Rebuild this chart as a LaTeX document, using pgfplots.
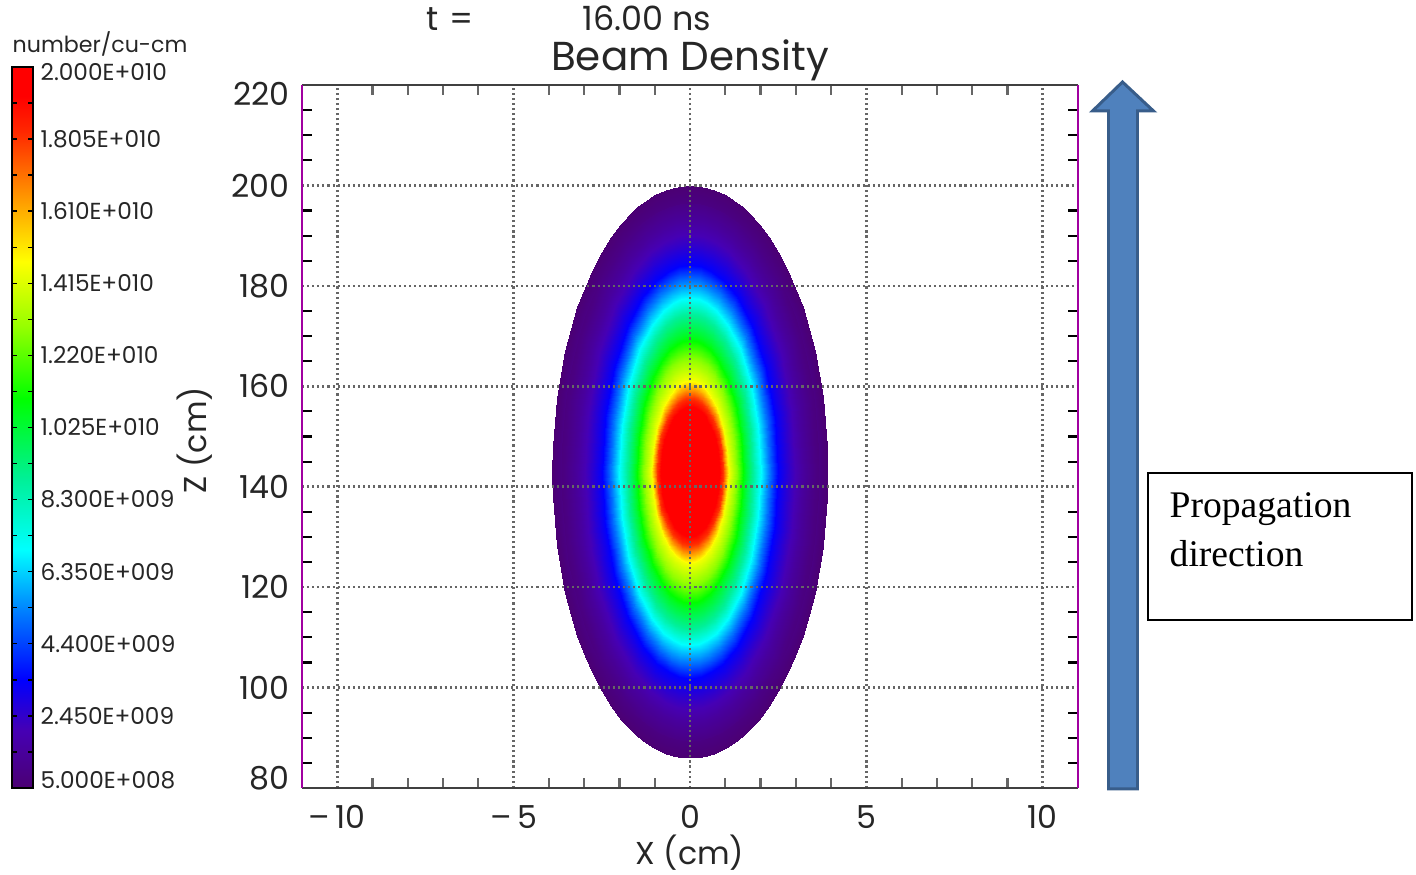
\documentclass[border=0pt]{standalone}
\usepackage{pgfplots}
\pgfplotsset{compat=1.18}
\usepackage{fontspec}
\setmainfont{Poppins}
\newfontfamily\timesfont{Liberation Serif}
\definecolor{arrowfill}{HTML}{4F81BD}
\definecolor{arrowdraw}{HTML}{385D8A}
\definecolor{framepurple}{RGB}{160,0,160}
\pgfplotsset{colormap={beam}{rgb255(0pt)=(75,0,115) rgb255(8pt)=(70,0,180) rgb255(15pt)=(0,0,255) rgb255(24pt)=(0,120,255) rgb255(33pt)=(0,255,255) rgb255(43pt)=(0,240,150) rgb255(54pt)=(0,255,0) rgb255(64pt)=(150,255,0) rgb255(73pt)=(255,255,0) rgb255(82pt)=(255,150,0) rgb255(91pt)=(255,40,0) rgb255(96pt)=(255,0,0) rgb255(100pt)=(255,0,0)}}
\begin{document}
\begin{tikzpicture}
\path[use as bounding box] (0,0) rectangle (14.16,8.75);
% ---------- beam density: rings of equal density (x, z, density/1e10) ----------
\begin{axis}[
  at={(3.02cm,0.87cm)}, anchor=south west,
  scale only axis, width=7.76cm, height=7.03cm,
  view={0}{90}, hide axis,
  xmin=-11, xmax=11, ymin=80, ymax=220,
  colormap name=beam, point meta min=0.05, point meta max=2,
]
\addplot3[surf, shader=interp, point meta=z] coordinates {
(0,143,2) (0,143,2) (0,143,2) (0,143,2) (0,143,2) (0,143,2) (0,143,2) (0,143,2) (0,143,2) (0,143,2) (0,143,2) (0,143,2) (0,143,2) (0,143,2) (0,143,2) (0,143,2) (0,143,2) (0,143,2) (0,143,2) (0,143,2) (0,143,2) (0,143,2) (0,143,2) (0,143,2) (0,143,2) (0,143,2) (0,143,2) (0,143,2) (0,143,2) (0,143,2) (0,143,2) (0,143,2) (0,143,2)

(0.78,143,1.98) (0.753,146.13,1.98) (0.675,149.04,1.98) (0.552,151.54,1.98) (0.413,153.24,1.98) (0.292,154.2,1.98) (0.189,154.72,1.98) (0.095,154.99,1.98) (0,155.08,1.98) (-0.095,154.99,1.98) (-0.189,154.72,1.98) (-0.292,154.2,1.98) (-0.413,153.24,1.98) (-0.552,151.54,1.98) (-0.675,149.04,1.98) (-0.753,146.13,1.98) (-0.78,143,1.98) (-0.753,139.87,1.98) (-0.675,136.96,1.98) (-0.552,134.46,1.98) (-0.413,132.76,1.98) (-0.292,131.8,1.98) (-0.189,131.28,1.98) (-0.095,131.01,1.98) (0,130.92,1.98) (0.095,131.01,1.98) (0.189,131.28,1.98) (0.292,131.8,1.98) (0.413,132.76,1.98) (0.552,134.46,1.98) (0.675,136.96,1.98) (0.753,139.87,1.98) (0.78,143,1.98)

(0.936,143,1.8) (0.904,146.82,1.8) (0.811,150.38,1.8) (0.662,153.44,1.8) (0.496,155.52,1.8) (0.351,156.69,1.8) (0.226,157.32,1.8) (0.114,157.65,1.8) (0,157.76,1.8) (-0.114,157.65,1.8) (-0.226,157.32,1.8) (-0.351,156.69,1.8) (-0.496,155.52,1.8) (-0.662,153.44,1.8) (-0.811,150.38,1.8) (-0.904,146.82,1.8) (-0.936,143,1.8) (-0.904,139.18,1.8) (-0.811,135.62,1.8) (-0.662,132.56,1.8) (-0.496,130.48,1.8) (-0.351,129.31,1.8) (-0.226,128.68,1.8) (-0.114,128.35,1.8) (0,128.24,1.8) (0.114,128.35,1.8) (0.226,128.68,1.8) (0.351,129.31,1.8) (0.496,130.48,1.8) (0.662,132.56,1.8) (0.811,135.62,1.8) (0.904,139.18,1.8) (0.936,143,1.8)

(1.092,143,1.45) (1.055,147.75,1.45) (0.946,152.18,1.45) (0.772,155.98,1.45) (0.579,158.56,1.45) (0.409,160.01,1.45) (0.264,160.81,1.45) (0.133,161.21,1.45) (0,161.35,1.45) (-0.133,161.21,1.45) (-0.264,160.81,1.45) (-0.409,160.01,1.45) (-0.579,158.56,1.45) (-0.772,155.98,1.45) (-0.946,152.18,1.45) (-1.055,147.75,1.45) (-1.092,143,1.45) (-1.055,138.25,1.45) (-0.946,133.83,1.45) (-0.772,130.03,1.45) (-0.579,127.44,1.45) (-0.409,125.99,1.45) (-0.264,125.2,1.45) (-0.133,124.79,1.45) (0,124.65,1.45) (0.133,124.79,1.45) (0.264,125.2,1.45) (0.409,125.99,1.45) (0.579,127.44,1.45) (0.772,130.03,1.45) (0.946,133.83,1.45) (1.055,138.25,1.45) (1.092,143,1.45)

(1.326,143,1.27) (1.281,148.92,1.27) (1.148,154.43,1.27) (0.938,159.16,1.27) (0.703,162.39,1.27) (0.497,164.2,1.27) (0.321,165.18,1.27) (0.162,165.69,1.27) (0,165.86,1.27) (-0.162,165.69,1.27) (-0.321,165.18,1.27) (-0.497,164.2,1.27) (-0.703,162.39,1.27) (-0.938,159.16,1.27) (-1.148,154.43,1.27) (-1.281,148.92,1.27) (-1.326,143,1.27) (-1.281,137.08,1.27) (-1.148,131.57,1.27) (-0.938,126.84,1.27) (-0.703,123.62,1.27) (-0.497,121.8,1.27) (-0.321,120.82,1.27) (-0.162,120.31,1.27) (0,120.14,1.27) (0.162,120.31,1.27) (0.321,120.82,1.27) (0.497,121.8,1.27) (0.703,123.62,1.27) (0.938,126.84,1.27) (1.148,131.57,1.27) (1.281,137.08,1.27) (1.326,143,1.27)

(1.56,143,1.05) (1.507,150.02,1.05) (1.351,156.57,1.05) (1.103,162.18,1.05) (0.827,166.01,1.05) (0.584,168.16,1.05) (0.377,169.32,1.05) (0.19,169.93,1.05) (0,170.13,1.05) (-0.19,169.93,1.05) (-0.377,169.32,1.05) (-0.584,168.16,1.05) (-0.827,166.01,1.05) (-1.103,162.18,1.05) (-1.351,156.57,1.05) (-1.507,150.02,1.05) (-1.56,143,1.05) (-1.507,135.98,1.05) (-1.351,129.44,1.05) (-1.103,123.82,1.05) (-0.827,119.99,1.05) (-0.584,117.85,1.05) (-0.377,116.68,1.05) (-0.19,116.07,1.05) (0,115.87,1.05) (0.19,116.07,1.05) (0.377,116.68,1.05) (0.584,117.85,1.05) (0.827,119.99,1.05) (1.103,123.82,1.05) (1.351,129.44,1.05) (1.507,135.98,1.05) (1.56,143,1.05)

(1.794,143,0.88) (1.733,151.14,0.88) (1.554,158.73,0.88) (1.269,165.25,0.88) (0.951,169.68,0.88) (0.672,172.17,0.88) (0.434,173.53,0.88) (0.219,174.22,0.88) (0,174.46,0.88) (-0.219,174.22,0.88) (-0.434,173.53,0.88) (-0.672,172.17,0.88) (-0.951,169.68,0.88) (-1.269,165.25,0.88) (-1.554,158.73,0.88) (-1.733,151.14,0.88) (-1.794,143,0.88) (-1.733,134.86,0.88) (-1.554,127.27,0.88) (-1.269,120.76,0.88) (-0.951,116.32,0.88) (-0.672,113.83,0.88) (-0.434,112.47,0.88) (-0.219,111.78,0.88) (0,111.54,0.88) (0.219,111.78,0.88) (0.434,112.47,0.88) (0.672,113.83,0.88) (0.951,116.32,0.88) (1.269,120.76,0.88) (1.554,127.27,0.88) (1.733,134.86,0.88) (1.794,143,0.88)

(2.028,143,0.67) (1.959,152.06,0.67) (1.756,160.5,0.67) (1.434,167.75,0.67) (1.075,172.68,0.67) (0.76,175.45,0.67) (0.491,176.96,0.67) (0.247,177.74,0.67) (0,178,0.67) (-0.247,177.74,0.67) (-0.491,176.96,0.67) (-0.76,175.45,0.67) (-1.075,172.68,0.67) (-1.434,167.75,0.67) (-1.756,160.5,0.67) (-1.959,152.06,0.67) (-2.028,143,0.67) (-1.959,133.94,0.67) (-1.756,125.5,0.67) (-1.434,118.25,0.67) (-1.075,113.32,0.67) (-0.76,110.55,0.67) (-0.491,109.04,0.67) (-0.247,108.26,0.67) (0,108,0.67) (0.247,108.26,0.67) (0.491,109.04,0.67) (0.76,110.55,0.67) (1.075,113.32,0.67) (1.434,118.25,0.67) (1.756,125.5,0.67) (1.959,133.94,0.67) (2.028,143,0.67)

(2.262,143,0.5) (2.185,152.93,0.5) (1.959,162.18,0.5) (1.599,170.12,0.5) (1.199,175.53,0.5) (0.847,178.57,0.5) (0.547,180.22,0.5) (0.276,181.07,0.5) (0,181.36,0.5) (-0.276,181.07,0.5) (-0.547,180.22,0.5) (-0.847,178.57,0.5) (-1.199,175.53,0.5) (-1.599,170.12,0.5) (-1.959,162.18,0.5) (-2.185,152.93,0.5) (-2.262,143,0.5) (-2.185,133.07,0.5) (-1.959,123.82,0.5) (-1.599,115.88,0.5) (-1.199,110.47,0.5) (-0.847,107.43,0.5) (-0.547,105.78,0.5) (-0.276,104.93,0.5) (0,104.64,0.5) (0.276,104.93,0.5) (0.547,105.78,0.5) (0.847,107.43,0.5) (1.199,110.47,0.5) (1.599,115.88,0.5) (1.959,123.82,0.5) (2.185,133.07,0.5) (2.262,143,0.5)

(2.496,143,0.34) (2.411,153.67,0.34) (2.162,163.61,0.34) (1.765,172.14,0.34) (1.323,177.95,0.34) (0.935,181.21,0.34) (0.604,182.99,0.34) (0.304,183.9,0.34) (0,184.21,0.34) (-0.304,183.9,0.34) (-0.604,182.99,0.34) (-0.935,181.21,0.34) (-1.323,177.95,0.34) (-1.765,172.14,0.34) (-2.162,163.61,0.34) (-2.411,153.67,0.34) (-2.496,143,0.34) (-2.411,132.34,0.34) (-2.162,122.4,0.34) (-1.765,113.86,0.34) (-1.323,108.05,0.34) (-0.935,104.79,0.34) (-0.604,103.01,0.34) (-0.304,102.1,0.34) (0,101.79,0.34) (0.304,102.1,0.34) (0.604,103.01,0.34) (0.935,104.79,0.34) (1.323,108.05,0.34) (1.765,113.86,0.34) (2.162,122.4,0.34) (2.411,132.34,0.34) (2.496,143,0.34)

(2.808,143,0.25) (2.712,154.68,0.25) (2.432,165.57,0.25) (1.986,174.92,0.25) (1.488,181.28,0.25) (1.052,184.85,0.25) (0.679,186.8,0.25) (0.342,187.8,0.25) (0,188.14,0.25) (-0.342,187.8,0.25) (-0.679,186.8,0.25) (-1.052,184.85,0.25) (-1.488,181.28,0.25) (-1.986,174.92,0.25) (-2.432,165.57,0.25) (-2.712,154.68,0.25) (-2.808,143,0.25) (-2.712,131.32,0.25) (-2.432,120.43,0.25) (-1.986,111.08,0.25) (-1.488,104.72,0.25) (-1.052,101.15,0.25) (-0.679,99.2,0.25) (-0.342,98.2,0.25) (0,97.86,0.25) (0.342,98.2,0.25) (0.679,99.2,0.25) (1.052,101.15,0.25) (1.488,104.72,0.25) (1.986,111.08,0.25) (2.432,120.43,0.25) (2.712,131.32,0.25) (2.808,143,0.25)

(3.198,143,0.15) (3.089,155.94,0.15) (2.769,168,0.15) (2.261,178.35,0.15) (1.695,185.39,0.15) (1.198,189.35,0.15) (0.774,191.51,0.15) (0.39,192.62,0.15) (0,192.99,0.15) (-0.39,192.62,0.15) (-0.774,191.51,0.15) (-1.198,189.35,0.15) (-1.695,185.39,0.15) (-2.261,178.35,0.15) (-2.769,168,0.15) (-3.089,155.94,0.15) (-3.198,143,0.15) (-3.089,130.06,0.15) (-2.769,118,0.15) (-2.261,107.65,0.15) (-1.695,100.61,0.15) (-1.198,96.65,0.15) (-0.774,94.5,0.15) (-0.39,93.39,0.15) (0,93.01,0.15) (0.39,93.39,0.15) (0.774,94.5,0.15) (1.198,96.65,0.15) (1.695,100.61,0.15) (2.261,107.65,0.15) (2.769,118,0.15) (3.089,130.06,0.15) (3.198,143,0.15)

(3.549,143,0.09) (3.428,156.95,0.09) (3.073,169.96,0.09) (2.51,181.13,0.09) (1.881,188.72,0.09) (1.329,193,0.09) (0.859,195.32,0.09) (0.433,196.52,0.09) (0,196.92,0.09) (-0.433,196.52,0.09) (-0.859,195.32,0.09) (-1.329,193,0.09) (-1.881,188.72,0.09) (-2.51,181.13,0.09) (-3.073,169.96,0.09) (-3.428,156.95,0.09) (-3.549,143,0.09) (-3.428,129.05,0.09) (-3.073,116.04,0.09) (-2.51,104.87,0.09) (-1.881,97.28,0.09) (-1.329,93,0.09) (-0.859,90.68,0.09) (-0.433,89.48,0.09) (0,89.08,0.09) (0.433,89.48,0.09) (0.859,90.68,0.09) (1.329,93,0.09) (1.881,97.28,0.09) (2.51,104.87,0.09) (3.073,116.04,0.09) (3.428,129.05,0.09) (3.549,143,0.09)

(3.9,143,0.05) (3.767,157.75,0.05) (3.377,171.5,0.05) (2.758,183.31,0.05) (2.067,191.34,0.05) (1.461,195.85,0.05) (0.943,198.31,0.05) (0.475,199.57,0.05) (0,200,0.05) (-0.475,199.57,0.05) (-0.943,198.31,0.05) (-1.461,195.85,0.05) (-2.067,191.34,0.05) (-2.758,183.31,0.05) (-3.377,171.5,0.05) (-3.767,157.75,0.05) (-3.9,143,0.05) (-3.767,128.25,0.05) (-3.377,114.5,0.05) (-2.758,102.7,0.05) (-2.067,94.66,0.05) (-1.461,90.15,0.05) (-0.943,87.69,0.05) (-0.475,86.43,0.05) (0,86,0.05) (0.475,86.43,0.05) (0.943,87.69,0.05) (1.461,90.15,0.05) (2.067,94.66,0.05) (2.758,102.7,0.05) (3.377,114.5,0.05) (3.767,128.25,0.05) (3.9,143,0.05)
};
\end{axis}
% ---------- outer rim of the beam, finer in angle (polar: angle, radius/ellipse, density/1e10) ----------
\begin{axis}[
  at={(3.02cm,0.87cm)}, anchor=south west,
  scale only axis, width=7.76cm, height=7.03cm,
  view={0}{90}, hide axis,
  xmin=-2.82051, xmax=2.82051, ymin=-1.10526, ymax=1.35088,
  colormap name=beam, point meta min=0.05, point meta max=2,
]
\addplot3[surf, shader=interp, data cs=polar, point meta=z] coordinates {
(0,0.94,0.085) (5,0.94,0.085) (10,0.94,0.085) (15,0.94,0.085) (20,0.94,0.085) (25,0.94,0.085) (30,0.94,0.085) (35,0.94,0.085) (40,0.94,0.085) (45,0.94,0.085) (50,0.94,0.085) (55,0.94,0.085) (60,0.94,0.085) (65,0.94,0.085) (70,0.94,0.085) (75,0.94,0.085) (80,0.94,0.085) (85,0.94,0.085) (90,0.94,0.085) (95,0.94,0.085) (100,0.94,0.085) (105,0.94,0.085) (110,0.94,0.085) (115,0.94,0.085) (120,0.94,0.085) (125,0.94,0.085) (130,0.94,0.085) (135,0.94,0.085) (140,0.94,0.085) (145,0.94,0.085) (150,0.94,0.085) (155,0.94,0.085) (160,0.94,0.085) (165,0.94,0.085) (170,0.94,0.085) (175,0.94,0.085) (180,0.94,0.085) (185,0.94,0.085) (190,0.94,0.085) (195,0.94,0.085) (200,0.94,0.085) (205,0.94,0.085) (210,0.94,0.085) (215,0.94,0.085) (220,0.94,0.085) (225,0.94,0.085) (230,0.94,0.085) (235,0.94,0.085) (240,0.94,0.085) (245,0.94,0.085) (250,0.94,0.085) (255,0.94,0.085) (260,0.94,0.085) (265,0.94,0.085) (270,0.94,0.085) (275,0.94,0.085) (280,0.94,0.085) (285,0.94,0.085) (290,0.94,0.085) (295,0.94,0.085) (300,0.94,0.085) (305,0.94,0.085) (310,0.94,0.085) (315,0.94,0.085) (320,0.94,0.085) (325,0.94,0.085) (330,0.94,0.085) (335,0.94,0.085) (340,0.94,0.085) (345,0.94,0.085) (350,0.94,0.085) (355,0.94,0.085) (360,0.94,0.085)

(0,1,0.05) (5,1,0.05) (10,1,0.05) (15,1,0.05) (20,1,0.05) (25,1,0.05) (30,1,0.05) (35,1,0.05) (40,1,0.05) (45,1,0.05) (50,1,0.05) (55,1,0.05) (60,1,0.05) (65,1,0.05) (70,1,0.05) (75,1,0.05) (80,1,0.05) (85,1,0.05) (90,1,0.05) (95,1,0.05) (100,1,0.05) (105,1,0.05) (110,1,0.05) (115,1,0.05) (120,1,0.05) (125,1,0.05) (130,1,0.05) (135,1,0.05) (140,1,0.05) (145,1,0.05) (150,1,0.05) (155,1,0.05) (160,1,0.05) (165,1,0.05) (170,1,0.05) (175,1,0.05) (180,1,0.05) (185,1,0.05) (190,1,0.05) (195,1,0.05) (200,1,0.05) (205,1,0.05) (210,1,0.05) (215,1,0.05) (220,1,0.05) (225,1,0.05) (230,1,0.05) (235,1,0.05) (240,1,0.05) (245,1,0.05) (250,1,0.05) (255,1,0.05) (260,1,0.05) (265,1,0.05) (270,1,0.05) (275,1,0.05) (280,1,0.05) (285,1,0.05) (290,1,0.05) (295,1,0.05) (300,1,0.05) (305,1,0.05) (310,1,0.05) (315,1,0.05) (320,1,0.05) (325,1,0.05) (330,1,0.05) (335,1,0.05) (340,1,0.05) (345,1,0.05) (350,1,0.05) (355,1,0.05) (360,1,0.05)
};
\end{axis}
% ---------- main axis: frame, grid, ticks, colour bar ----------
\begin{axis}[
  at={(3.02cm,0.87cm)}, anchor=south west,
  scale only axis, width=7.76cm, height=7.03cm,
  xmin=-11, xmax=11, ymin=80, ymax=220,
  xtick={-10,-5,0,5,10}, xticklabels={–\,10,–\,5,0,5,10},
  ytick={80,100,120,140,160,180,200,220},
  yticklabels={\raisebox{0.1cm}[\height][\depth]{80},100,120,140,160,180,200,\raisebox{-0.09cm}[\height][\depth]{220}},
  minor x tick num=4, minor y tick num=3,
  tick align=inside, major tick length=0pt, minor tick length=0.1cm,
  xmajorgrids, ymajorgrids,
  major grid style={black!60, line width=0.7pt, dash pattern=on 0.6pt off 0.85pt},
  separate axis lines,
  x axis line style={black!75, line width=0.6pt},
  y axis line style={framepurple, line width=0.6pt},
  x tick style={black!60, line width=0.6pt},
  y tick style={black, line width=0.6pt},
  tick label style={font=\fontsize{9}{10}\selectfont, text=black!85},
  xticklabel style={inner sep=0pt, anchor=north, yshift=-0.17cm},
  yticklabel style={inner sep=0pt, anchor=east, xshift=-0.12cm},
  xlabel={X (cm)}, ylabel={Z (cm)},
  label style={font=\fontsize{9}{10}\selectfont, text=black!85},
  xlabel style={at={(axis description cs:0.5,-0.0925)}, anchor=center},
  ylabel style={at={(axis description cs:-0.1379,0.495)}, anchor=center},
  point meta min=0.05, point meta max=2,
  colorbar,
  colorbar style={
    at={(parent axis.south west)}, anchor=south west, xshift=-3.20cm,
    scale only axis, width=0.21cm, height=7.21cm,
    ytick={0.05,0.245,0.44,0.635,0.83,1.025,1.22,1.415,1.61,1.805,2.0},
    yticklabels={\raisebox{0.08cm}[\height][\depth]{5.000E+008},2.450E+009,4.400E+009,6.350E+009,8.300E+009,1.025E+010,1.220E+010,1.415E+010,1.610E+010,1.805E+010,\raisebox{-0.05cm}[\height][\depth]{2.000E+010}},
    minor y tick num=1,
    ytick pos=both, yticklabel pos=right,
    tick align=inside,
    major tick length=0.05cm, minor tick length=0.05cm,
    tick style={black, line width=0.4pt},
    yticklabel style={font=\fontsize{6.6}{7.5}\selectfont, text=black!85, inner sep=0pt, anchor=west, xshift=0.07cm},
    axis line style={black, line width=0.5pt},
  },
]
\end{axis}
% ---------- titles ----------
\node[anchor=base, font=\fontsize{9.5}{11}\selectfont, text=black!85] at (4.50,8.44) {t\,\,=};
\node[anchor=base, font=\fontsize{9.5}{11}\selectfont, text=black!85] at (6.47,8.44) {16.00 ns};
\node[anchor=base, font=\fontsize{11.5}{13}\selectfont, text=black!85] at (6.90,8.04) {Beam Density};
\node[anchor=base west, inner sep=0pt, font=\fontsize{6.3}{7.5}\selectfont, text=black!85] at (0.12,8.22) {number/cu-cm};
% ---------- propagation arrow and box ----------
\draw[arrowdraw, fill=arrowfill, line width=0.85pt, line join=miter]
  (11.225,7.93) -- (11.535,7.64) -- (11.375,7.64) -- (11.375,0.86) -- (11.085,0.86) -- (11.085,7.64) -- (10.925,7.64) -- cycle;
\draw[black, line width=0.8pt] (11.48,2.55) rectangle (14.12,4.02);
\node[anchor=base west, inner sep=0pt, font=\timesfont\fontsize{10.7}{13}\selectfont] at (11.69,3.57) {Propagation};
\node[anchor=base west, inner sep=0pt, font=\timesfont\fontsize{10.7}{13}\selectfont] at (11.69,3.08) {direction};
\end{tikzpicture}
\end{document}
